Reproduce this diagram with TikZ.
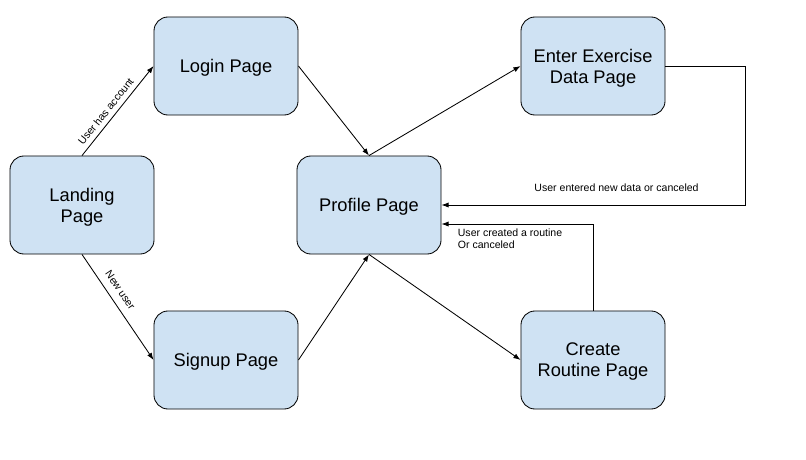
\documentclass[tikz,border=0pt]{standalone}
\usepackage{fontspec}
\setmainfont{Liberation Sans}
\usepackage{xcolor}
\usepackage{tikz}
\usetikzlibrary{arrows.meta,positioning}
\definecolor{pageblue}{HTML}{CFE2F3}
\tikzset{
  pagebox/.style={rectangle, rounded corners=0.35cm, draw=black, fill=pageblue, minimum width=3.6cm, minimum height=2.45cm, align=center, text depth=-2pt, font=\fontsize{13}{15}\selectfont, line width=0.6pt},
  farrow/.style={-{Latex[length=1.8mm,width=1.3mm]}, line width=0.6pt, black},
  flabel/.style={font=\fontsize{7.5}{9}\selectfont}
}

\begin{document}
\begin{tikzpicture}[x=0.025cm, y=-0.025cm]
\path[use as bounding box] (0,0) rectangle (806,459);
\node[pagebox] (landing) at (82,205) {Landing\\Page};
\node[pagebox] (login) at (226,66) {Login Page};
\node[pagebox] (signup) at (226,360) {Signup Page};
\node[pagebox] (profile) at (369,205) {Profile Page};
\node[pagebox] (exercise) at (593,66) {Enter Exercise\\Data Page};
\node[pagebox] (routine) at (593,360) {Create\\Routine Page};
\draw[farrow] (landing.north) -- node[flabel, pos=0.43, sloped, above] {User has account} (login.west);
\draw[farrow] (landing.south) -- node[flabel, pos=0.4, sloped, above=2pt] {New user} (signup.west);
\draw[farrow] (login.east) -- (profile.north);
\draw[farrow] (signup.east) -- (profile.south);
\draw[farrow] (profile.north) -- (exercise.west);
\draw[farrow] (profile.south) -- (routine.west);
\draw[farrow] (exercise.east) -- ++(80,0) |- node[flabel, pos=0.712, yshift=0.43cm] {User entered new data or canceled} (profile.east);
\draw[farrow] (routine.north) |- node[flabel, pos=1, anchor=north west, align=left, inner sep=0pt, xshift=0.4cm, yshift=-0.1cm] {User created a routine\\Or canceled} ([yshift=-0.475cm]profile.east);
\end{tikzpicture}
\end{document}
